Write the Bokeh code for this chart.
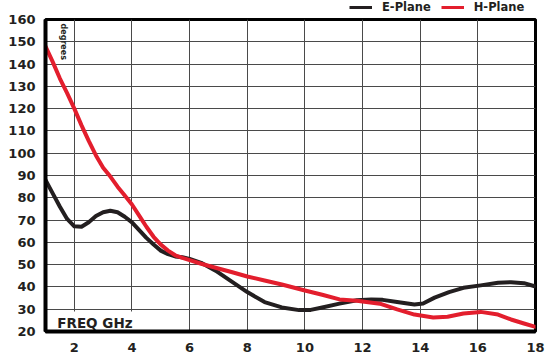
from bokeh.plotting import figure
from bokeh.layouts import column
from bokeh.models import Range1d, FixedTicker, Legend, LegendItem, Label
from bokeh.embed import file_html
from bokeh.resources import INLINE

# E-Plane beamwidth (degrees) vs frequency (GHz)
e_freq = [1, 1.25, 1.5, 1.75, 2, 2.25, 2.5, 2.75, 3, 3.25, 3.5, 3.75, 4, 4.25, 4.5, 4.75,
          5, 5.25, 5.5, 5.75, 6, 6.4, 6.9, 7.45, 8, 8.6, 9.2, 9.8, 10.2, 10.6, 11.2, 11.8,
          12.3, 12.7, 13.2, 13.8, 14.1, 14.5, 15, 15.5, 16.1, 16.7, 17.15, 17.6, 18]
e_plane = [88, 82, 76, 70.5, 67.2, 67, 69, 71.8, 73.5, 74.2, 73.5, 71.5, 69, 65.5, 62, 59,
           56.3, 54.7, 53.7, 53.3, 52.6, 50.8, 47.3, 42.5, 37.7, 33.2, 30.8, 29.6, 29.7, 30.8, 32.5, 34,
           34.4, 34.2, 33.2, 32.1, 32.6, 35.2, 37.7, 39.6, 40.7, 41.9, 42.1, 41.7, 40.2]

# H-Plane beamwidth (degrees) vs frequency (GHz)
h_freq = [1, 1.25, 1.5, 1.75, 2, 2.25, 2.5, 2.75, 3, 3.25, 3.5, 3.75, 4, 4.25, 4.5, 4.75,
          5, 5.25, 5.5, 5.75, 6, 6.4, 6.9, 7.45, 8, 8.6, 9.2, 10, 10.6, 11.2, 11.8,
          12.6, 13.2, 13.8, 14.45, 14.95, 15.5, 16.1, 16.7, 17.15, 17.6, 18]
h_plane = [148, 141, 133.5, 127, 120, 112.5, 105.5, 99, 93.5, 89.5, 85, 81, 77, 72, 67, 62.5,
           59, 56.3, 54.2, 53, 52, 50.4, 48.6, 46.7, 44.7, 42.9, 41.1, 38.4, 36.5, 34.4, 33.8,
           32.5, 29.9, 27.6, 26.3, 26.6, 28.1, 28.8, 27.6, 25.4, 23.6, 22.1]

series_names = ["E-Plane", "H-Plane"]
series_colors = ["#231f20", "#e31e2d"]

x_ticks = [2, 4, 6, 8, 10, 12, 14, 16, 18]
y_ticks = list(range(20, 161, 10))

FONT = "DejaVu Sans"
TXT = "#231f20"

# ---- main chart ----
p = figure(width=551, height=344, output_backend="svg", toolbar_location=None,
           x_range=Range1d(1, 18), y_range=Range1d(20, 160),
           min_border_left=45, min_border_right=16, min_border_top=8, min_border_bottom=24)
p.background_fill_color = "white"
p.border_fill_color = "white"
p.outline_line_color = "black"
p.outline_line_width = 3

for ax in (p.xaxis[0], p.yaxis[0]):
    ax.major_tick_line_color = None
    ax.minor_tick_line_color = None
    ax.axis_line_color = "black"
    ax.axis_line_width = 4
    ax.major_label_text_font = FONT
    ax.major_label_text_font_style = "bold"
    ax.major_label_text_font_size = "13px"
    ax.major_label_text_color = TXT
p.xaxis.ticker = FixedTicker(ticks=x_ticks)
p.yaxis.ticker = FixedTicker(ticks=y_ticks)
p.xaxis.major_label_standoff = 5
p.yaxis.major_label_standoff = 4

p.xgrid.ticker = FixedTicker(ticks=x_ticks)
p.ygrid.ticker = FixedTicker(ticks=y_ticks)
p.grid.grid_line_color = "#4a4a4a"
p.grid.grid_line_width = 1
p.grid.grid_line_alpha = 1

# FREQ GHz label with white box hiding the grid behind it
p.add_layout(Label(x=1.27, y=23.6, text="FREQ GHz", text_font=FONT, text_font_style="bold",
                   text_font_size="13.5px", text_color=TXT, text_baseline="alphabetic",
                   background_fill_color="white", background_fill_alpha=1.0, padding=4,
                   level="underlay"))
p.add_layout(Label(x=1.62, y=158.2, text="degrees", angle=-1.5708, text_font=FONT,
                   text_font_style="bold", text_font_size="8px", text_color=TXT,
                   text_baseline="middle", text_align="left"))

p.line(e_freq, e_plane, line_color=series_colors[0], line_width=4, line_join="round", line_cap="round")
p.line(h_freq, h_plane, line_color=series_colors[1], line_width=4, line_join="round", line_cap="round")

# ---- legend strip above the chart ----
lg = figure(width=551, height=11, output_backend="svg", toolbar_location=None,
            x_range=Range1d(0, 1), y_range=Range1d(0, 1),
            x_axis_location=None, y_axis_location=None,
            min_border_left=0, min_border_right=0, min_border_top=0, min_border_bottom=0)
lg.outline_line_color = None
lg.grid.visible = False
lg.background_fill_alpha = 0
items = []
for name, col in zip(series_names, series_colors):
    r = lg.line([float("nan")], [float("nan")], line_color=col, line_width=3)
    items.append(LegendItem(label=name, renderers=[r]))
legend = Legend(items=items, orientation="horizontal", location=(304, -3),
                label_text_font=FONT, label_text_font_style="bold", label_text_font_size="11.5px",
                label_text_color=TXT, glyph_width=23, glyph_height=14, label_height=14,
                label_standoff=10, spacing=10, padding=0, margin=0,
                border_line_color=None, background_fill_alpha=0)
lg.add_layout(legend, "center")

layout = column(lg, p, spacing=0)
open("out.html", "w").write(file_html(layout, INLINE))
